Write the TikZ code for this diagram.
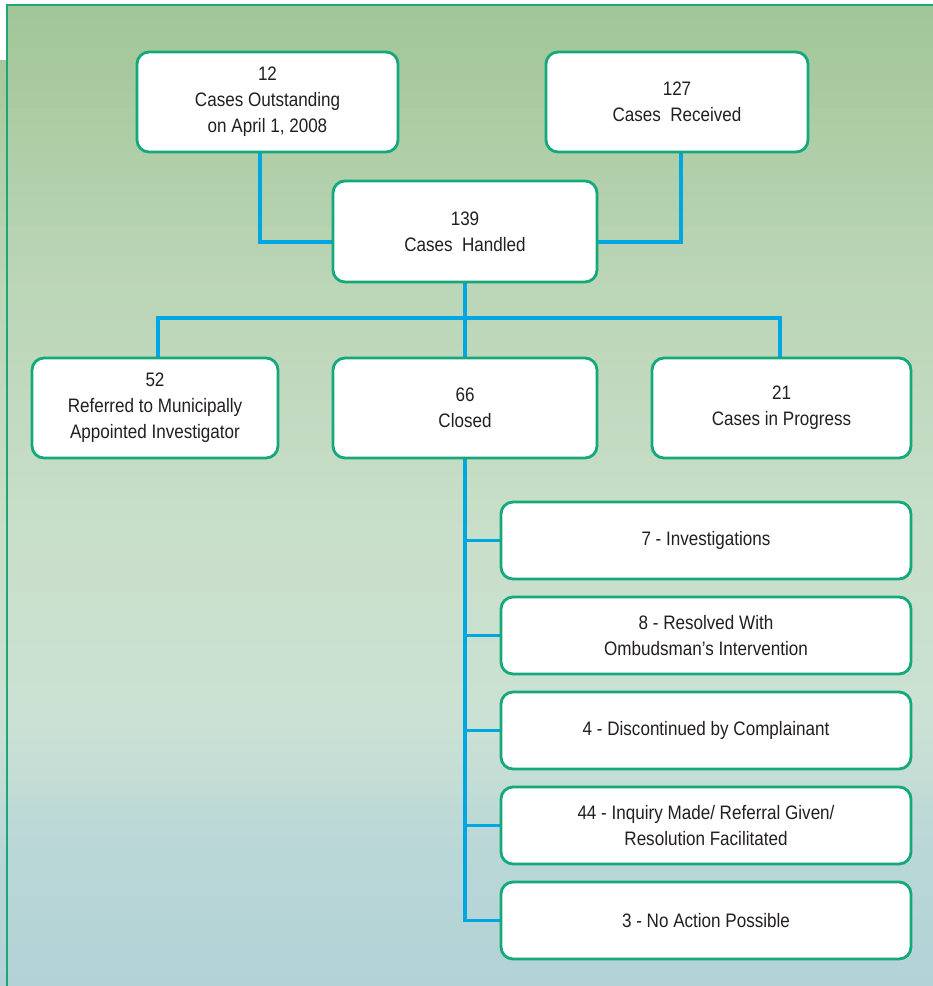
\documentclass[tikz,border=0pt]{standalone}
\usepackage{fontspec}
\setmainfont{Liberation Sans}[FakeStretch=0.875]
\definecolor{boxgreen}{HTML}{14A87A}
\definecolor{linkblue}{HTML}{00A6E2}
\definecolor{textgray}{HTML}{231F20}
\definecolor{framegreen}{HTML}{1FA57A}
\definecolor{bgtop}{HTML}{A2C698}
\definecolor{bgA}{HTML}{BCD6B8}
\definecolor{bgB}{HTML}{C9DFCA}
\definecolor{bgC}{HTML}{CBE1D4}
\definecolor{bgD}{HTML}{BAD7D7}
\definecolor{bgbot}{HTML}{B2D2D6}
\pgfdeclarelayer{back}
\pgfsetlayers{back,main}
\newcommand\bgband[4]{%
  \foreach \i in {0,...,19}{%
    \pgfmathsetmacro\ya{#1+(#2-#1)*\i/20}%
    \pgfmathsetmacro\yb{#1+(#2-#1)*(\i+1)/20+0.8}%
    \pgfmathsetmacro\pp{100-\i*100/19}%
    \fill[#3!\pp!#4] (0,\ya) rectangle (933,\yb);
  }}
\tikzset{
  box/.style={draw=boxgreen, line width=2.8pt, fill=white, rounded corners=12pt,
    align=center, inner sep=0pt, text=textgray,
    font=\fontsize{19.5}{26}\selectfont},
  bigbox/.style={box, minimum height=100pt},
  subbox/.style={box, minimum width=410pt, minimum height=77pt},
  link/.style={draw=linkblue, line width=3.5pt}
}
\begin{document}
\begin{tikzpicture}[x=1pt,y=-1pt]
\useasboundingbox (0,0) rectangle (933,986);
% nodes
\node[bigbox, minimum width=261pt] (A) at (267.5,102) {12\\Cases Outstanding\\on April 1, 2008};
\node[bigbox, minimum width=262pt] (B) at (677,102) {127\\Cases~ Received};
\node[bigbox, minimum width=264pt, minimum height=101pt] (C) at (465,231.5) {139\\Cases~ Handled};
\node[bigbox, minimum width=246pt] (D) at (155,408) {52\\Referred to Municipally\\Appointed Investigator};
\node[bigbox, minimum width=264pt] (E) at (465,408) {66\\Closed};
\node[bigbox, minimum width=259pt] (F) at (781.5,408) {21\\Cases in Progress};
\node[subbox] (S1) at (706,540.5) {7 - Investigations};
\node[subbox] (S2) at (706,635.5) {8 - Resolved With\\Ombudsman’s Intervention};
\node[subbox] (S3) at (706,730.5) {4 - Discontinued by Complainant};
\node[subbox] (S4) at (706,825.5) {44 - Inquiry Made/ Referral Given/\\Resolution Facilitated};
\node[subbox] (S5) at (706,920.5) {3 - No Action Possible};
\coordinate (H) at (465,318);
\coordinate (J) at (465,242);
\begin{pgfonlayer}{back}
  % background
  \fill[white] (0,0) rectangle (933,986);
  \bgband{5}{300}{bgtop}{bgA}
  \bgband{300}{550}{bgA}{bgB}
  \bgband{550}{720}{bgB}{bgC}
  \bgband{720}{850}{bgC}{bgD}
  \bgband{850}{986}{bgD}{bgbot}
  \fill[white] (0,0) rectangle (933,5);
  \fill[white] (0,5) rectangle (7,60);
  \draw[framegreen, line width=1.3pt] (7,986) -- (7,5) -- (933,5);
  % connectors
  \draw[link] ([xshift=-7.5pt]A.south) |- (J -| C.west);
  \draw[link] ([xshift=4pt]B.south) |- (J -| C.east);
  \draw[link] (C.south) -- (E.north);
  \draw[link] ([xshift=3pt]D.north) |- (H) -| ([xshift=-1.5pt]F.north);
  \draw[link] (E.south) |- (S5.west);
  \draw[link] (S1.west) -- (S1.west -| E.south);
  \draw[link] (S2.west) -- (S2.west -| E.south);
  \draw[link] (S3.west) -- (S3.west -| E.south);
  \draw[link] (S4.west) -- (S4.west -| E.south);
\end{pgfonlayer}
\end{tikzpicture}
\end{document}
